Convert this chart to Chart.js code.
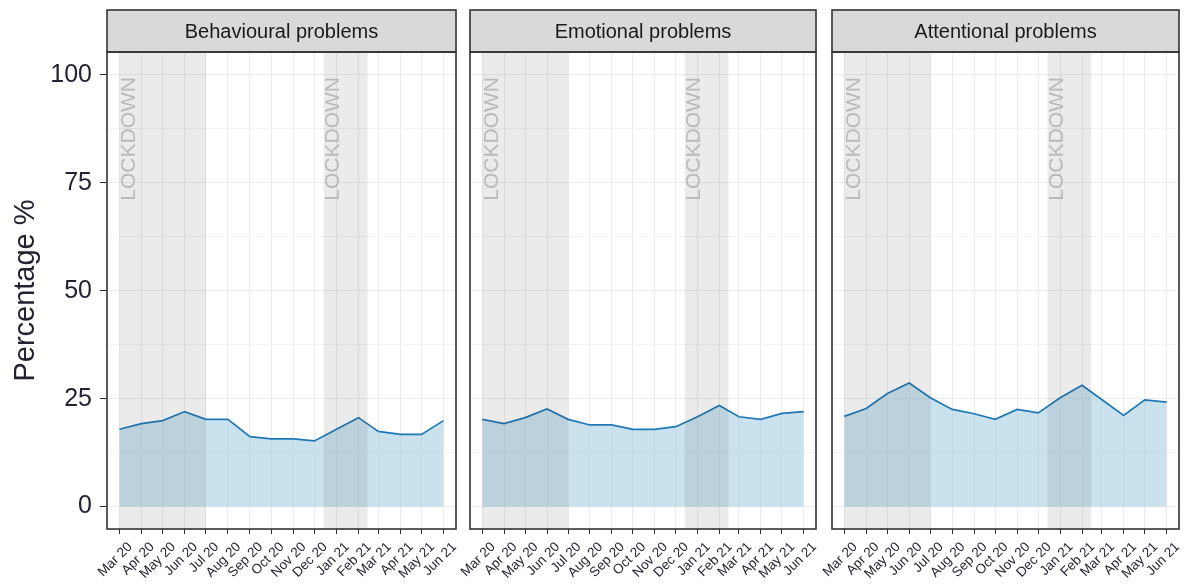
<!DOCTYPE html>
<html>
<head>
<meta charset="utf-8">
<script src="https://cdn.jsdelivr.net/npm/chart.js@4.4.1/dist/chart.umd.min.js"></script>
<style>
  html, body { margin: 0; padding: 0; background: #fff; }
  #wrap { position: relative; width: 1184px; height: 585px; overflow: hidden; }
  canvas { position: absolute; top: 0; }
</style>
</head>
<body>
<div id="wrap">
  <canvas id="p1" width="460" height="585" style="left:0px"></canvas>
  <canvas id="p2" width="380" height="585" style="left:440px"></canvas>
  <canvas id="p3" width="382" height="585" style="left:802px"></canvas>
</div>
<script>
// ---- data ----
const months = ['2020-03-01', '2020-04-01', '2020-05-01', '2020-06-01', '2020-07-01', '2020-08-01',
                '2020-09-01', '2020-10-01', '2020-11-01', '2020-12-01', '2021-01-01', '2021-02-01',
                '2021-03-01', '2021-04-01', '2021-05-01', '2021-06-01'];
const monthLabels = ['Mar 20', 'Apr 20', 'May 20', 'Jun 20', 'Jul 20', 'Aug 20', 'Sep 20', 'Oct 20',
                     'Nov 20', 'Dec 20', 'Jan 21', 'Feb 21', 'Mar 21', 'Apr 21', 'May 21', 'Jun 21'];
const panelTitles = ['Behavioural problems', 'Emotional problems', 'Attentional problems'];

const behavioural = [17.9, 19.2, 19.9, 22.0, 20.2, 20.2, 16.2, 15.7, 15.7, 15.2, 17.9, 20.6, 17.4, 16.7, 16.7, 19.9];
const emotional   = [20.2, 19.2, 20.6, 22.6, 20.2, 18.9, 18.9, 17.9, 17.9, 18.5, 20.8, 23.4, 20.8, 20.2, 21.6, 22.0];
const attentional = [20.9, 22.7, 26.2, 28.6, 25.2, 22.5, 21.5, 20.2, 22.5, 21.7, 25.2, 28.1, 24.8, 21.1, 24.7, 24.2];

const lockdowns = [['2020-03-01', '2020-07-01'], ['2020-12-14', '2021-02-14']];
const yMajor = [0, 25, 50, 75, 100];
const yMinor = [12.5, 37.5, 62.5, 87.5];

// ---- helpers ----
const startMs = Date.parse(months[0]);
const toDay = d => (Date.parse(d) - startMs) / 86400000;
const monthDays = months.map(toDay);
const FONT = '"Liberation Sans", Arial, sans-serif';

const facetPlugin = {
    id: 'facet',
    afterDatasetsDraw(chart) {
        const { ctx, chartArea: a, scales: { x, y } } = chart;
        ctx.save();
        ctx.beginPath();
        ctx.rect(a.left, a.top, a.right - a.left, a.bottom - a.top);
        ctx.clip();
        // lockdown shading
        ctx.fillStyle = 'rgba(60,60,60,0.1)';
        lockdowns.forEach(([s, e]) => {
            const x0 = x.getPixelForValue(toDay(s));
            const x1 = x.getPixelForValue(toDay(e));
            ctx.fillRect(x0, a.top, x1 - x0, a.bottom - a.top);
        });
        // lockdown labels
        ctx.fillStyle = '#bababa';
        ctx.font = '21px ' + FONT;
        ctx.textAlign = 'right';
        ctx.textBaseline = 'middle';
        lockdowns.forEach(([s]) => {
            const px = x.getPixelForValue(toDay(s) + 14);
            const py = y.getPixelForValue(99.5);
            ctx.save();
            ctx.translate(px, py);
            ctx.rotate(-Math.PI / 2);
            ctx.fillText('LOCKDOWN', 0, 0);
            ctx.restore();
        });
        ctx.restore();
    },
    afterDraw(chart) {
        const { ctx, chartArea: a, scales: { x } } = chart;
        const opts = chart.options.plugins.facet;
        ctx.save();
        // strip
        ctx.fillStyle = '#d9d9d9';
        ctx.fillRect(a.left, 10, a.right - a.left, a.top - 10);
        ctx.strokeStyle = '#333';
        ctx.lineWidth = 1.6;
        ctx.strokeRect(a.left, 10, a.right - a.left, a.top - 10);
        ctx.fillStyle = '#1a1a1a';
        ctx.font = '20px ' + FONT;
        ctx.textAlign = 'center';
        ctx.textBaseline = 'middle';
        ctx.fillText(opts.title, (a.left + a.right) / 2, (10 + a.top) / 2 + 1);
        // panel border
        ctx.strokeRect(a.left, a.top, a.right - a.left, a.bottom - a.top);

        // x tick labels, rotated 45 degrees, ending just right of the tick
        ctx.fillStyle = '#262633';
        ctx.font = '13.5px ' + FONT;
        ctx.textAlign = 'right';
        ctx.textBaseline = 'top';
        monthDays.forEach((d, i) => {
            ctx.save();
            ctx.translate(x.getPixelForValue(d) + 6, a.bottom + 11);
            ctx.rotate(-Math.PI / 4);
            ctx.fillText(monthLabels[i], 0, 0);
            ctx.restore();
        });

        // y axis title
        if (opts.showY) {
            ctx.save();
            ctx.fillStyle = '#222233';
            ctx.font = '29px ' + FONT;
            ctx.textAlign = 'center';
            ctx.textBaseline = 'middle';
            ctx.translate(26, (a.top + a.bottom) / 2);
            ctx.rotate(-Math.PI / 2);
            ctx.fillText('Percentage %', 0, 0);
            ctx.restore();
        }
        ctx.restore();
    }
};

function makePanel(id, title, values, showY, padLeft, padRight) {
    const points = values.map((v, i) => ({ x: monthDays[i], y: v }));
    return new Chart(document.getElementById(id), {
        type: 'line',
        data: {
            datasets: [{
                data: points,
                borderColor: '#1f78b4',
                borderWidth: 1.7,
                backgroundColor: 'rgba(166,206,227,0.6)',
                fill: 'origin',
                pointRadius: 0,
                tension: 0
            }]
        },
        plugins: [facetPlugin],
        options: {
            responsive: false,
            animation: false,
            layout: { padding: { top: 52, left: padLeft, right: padRight, bottom: 0 } },
            plugins: {
                legend: { display: false },
                tooltip: { enabled: false },
                facet: { title: title, showY: showY }
            },
            scales: {
                x: {
                    type: 'linear',
                    min: -17.5,
                    max: 474.5,
                    afterBuildTicks: s => { s.ticks = monthDays.map(v => ({ value: v })); },
                    afterFit: s => { s.height = 56; s.paddingLeft = 0; s.paddingRight = 0; },
                    border: { display: false },
                    grid: { color: '#ebebeb', lineWidth: 1, tickColor: '#333', tickLength: 5 },
                    ticks: { display: false }
                },
                y: {
                    min: -5.2,
                    max: 105.3,
                    afterBuildTicks: s => {
                        s.ticks = yMajor.concat(yMinor).sort((a, b) => a - b).map(v => ({ value: v }));
                    },
                    afterFit: s => { s.width = showY ? 107 : 0; },
                    border: { display: false },
                    grid: {
                        color: c => yMinor.includes(c.tick.value) ? '#f2f2f2' : '#ebebeb',
                        lineWidth: 1,
                        drawTicks: showY,
                        tickLength: 7,
                        tickColor: c => yMinor.includes(c.tick.value) ? 'rgba(0,0,0,0)' : '#333'
                    },
                    ticks: {
                        display: showY,
                        padding: 8,
                        color: '#222233',
                        font: { size: 25, family: FONT },
                        callback: v => yMajor.includes(v) ? String(v) : ''
                    }
                }
            }
        }
    });
}

makePanel('p1', panelTitles[0], behavioural, true, 0, 4);
makePanel('p2', panelTitles[1], emotional, false, 30, 4);
makePanel('p3', panelTitles[2], attentional, false, 30, 5);
</script>
</body>
</html>
